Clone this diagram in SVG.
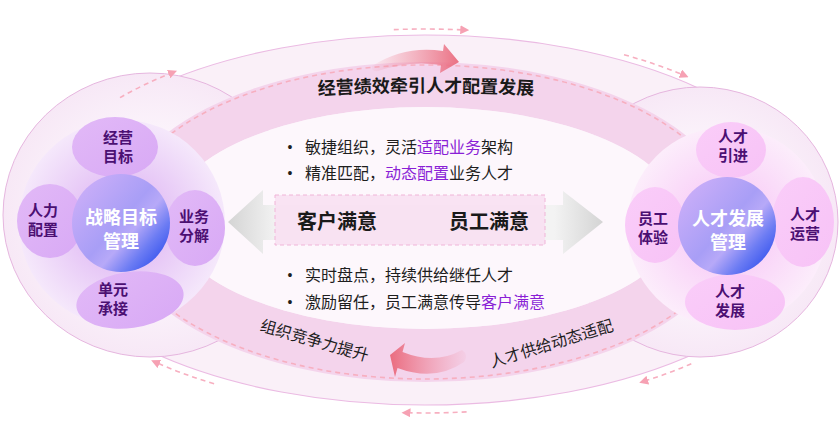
<svg xmlns="http://www.w3.org/2000/svg" width="840" height="440" viewBox="0 0 840 440">
<defs>
<style>
.cjk{font-family:'Noto Sans CJK SC','Noto Sans',sans-serif}
.lobeT{font-family:'Noto Sans CJK SC','Noto Sans',sans-serif;font-weight:700;font-size:15px;fill:#4B0F72;text-anchor:middle}
.coreT{font-family:'Noto Sans CJK SC','Noto Sans',sans-serif;font-weight:700;font-size:18px;fill:#ffffff;text-anchor:middle}
.bul{font-family:'Noto Sans CJK SC','Noto Sans',sans-serif;font-size:16px;fill:#1e1e1e}
.dot{font-family:'Liberation Sans',sans-serif;font-size:14px;fill:#1e1e1e;text-anchor:middle}
.hl{fill:#8A1FD6}
.dash{fill:none;stroke:#F7AFC0;stroke-width:1.6;stroke-dasharray:5 4}
.lobeL{fill:url(#gLobeL)}
.lobeR{fill:url(#gLobeR)}
</style>
<marker id="ah" viewBox="0 0 10 10" refX="7" refY="5" markerWidth="9" markerHeight="9" markerUnits="userSpaceOnUse" orient="auto">
<path d="M0,0 L10,5 L0,10 Z" fill="#F6A1B3"/>
</marker>
<linearGradient id="gCore" x1="0.15" y1="0.15" x2="0.95" y2="0.85">
<stop offset="0" stop-color="#C6ACF8"/>
<stop offset="0.45" stop-color="#A89EF6"/>
<stop offset="0.6" stop-color="#B7A9F8"/>
<stop offset="0.8" stop-color="#6C7CF3"/>
<stop offset="1" stop-color="#3553EE"/>
</linearGradient>
<radialGradient id="gPaleL" cx="0.5" cy="0.5" r="0.5">
<stop offset="0.45" stop-color="#E6C6F6"/>
<stop offset="1" stop-color="#F5E8FB"/>
</radialGradient>
<radialGradient id="gPaleR" cx="0.5" cy="0.5" r="0.5">
<stop offset="0.45" stop-color="#F9D4F8"/>
<stop offset="1" stop-color="#FCEDFB"/>
</radialGradient>
<linearGradient id="gLobeL" x1="0" y1="0" x2="1" y2="1">
<stop offset="0" stop-color="#E2B9F7"/>
<stop offset="1" stop-color="#D8A9F5"/>
</linearGradient>
<linearGradient id="gLobeR" x1="0" y1="0" x2="1" y2="1">
<stop offset="0" stop-color="#FACDF9"/>
<stop offset="1" stop-color="#F7C2F6"/>
</linearGradient>
<radialGradient id="gHalo" cx="0.5" cy="0.5" r="0.5">
<stop offset="0.6" stop-color="#FBF3FB"/>
<stop offset="1" stop-color="#F7E8F6"/>
</radialGradient>
<linearGradient id="gGrey" gradientUnits="userSpaceOnUse" x1="228" y1="0" x2="603" y2="0">
<stop offset="0" stop-color="#D4D4D4"/>
<stop offset="0.13" stop-color="#F3F3F3"/>
<stop offset="0.87" stop-color="#F3F3F3"/>
<stop offset="1" stop-color="#D4D4D4"/>
</linearGradient>
<linearGradient id="gArrTop" gradientUnits="userSpaceOnUse" x1="370" y1="0" x2="462" y2="0">
<stop offset="0" stop-color="#F08A9C" stop-opacity="0.05"/>
<stop offset="1" stop-color="#EA6C7F"/>
</linearGradient>
<linearGradient id="gArrBot" gradientUnits="userSpaceOnUse" x1="468" y1="0" x2="390" y2="0">
<stop offset="0" stop-color="#F08A9C" stop-opacity="0.05"/>
<stop offset="1" stop-color="#EA6C7F"/>
</linearGradient>
</defs>

<rect width="840" height="440" fill="#ffffff"/>

<g id="backdrop">
<ellipse cx="425" cy="220" rx="390" ry="185" fill="#FAF0F8" stroke="#EBBBE3" stroke-width="1.2"/>
<ellipse cx="150" cy="215" rx="147" ry="142" fill="url(#gHalo)" stroke="#E6B6DF" stroke-width="1"/>
<ellipse cx="700" cy="222" rx="138" ry="135" fill="url(#gHalo)" stroke="#E6B6DF" stroke-width="1"/>
</g>

<g id="band">
<path d="M115,222 A310,160 0 1,0 735,222 A310,160 0 1,0 115,222 Z M170,218 A255,111 0 1,1 680,218 A255,111 0 1,1 170,218 Z" fill="#F4D4EC" fill-rule="evenodd"/>
<ellipse cx="425" cy="218" rx="255" ry="111" fill="#FDF7FC"/>
<ellipse cx="425" cy="222" rx="307" ry="157" class="dash" stroke-width="1"/>
</g>

<g id="connectors">
<path class="dash" d="M120,97.6 A398,192 0 0,1 174.5,71.8" marker-end="url(#ah)"/>
<path class="dash" d="M393.8,29.6 A398,192 0 0,1 466.6,30.1" marker-end="url(#ah)"/>
<path class="dash" d="M624,54.7 A398,192 0 0,1 686.1,76.1" marker-end="url(#ah)"/>
<path class="dash" d="M691.3,363.7 A398,192 0 0,1 641.8,382" marker-end="url(#ah)"/>
<path class="dash" d="M466.6,411.9 A398,192 0 0,1 404.2,412.7" marker-end="url(#ah)"/>
<path class="dash" d="M214.1,383.8 A398,192 0 0,1 153.6,361.4" marker-end="url(#ah)"/>
<path d="M444,44 L443,51 Q405,45 372,66 Q371,72 378,71 Q410,60 441,65 L440,73 L459,62 Z" fill="url(#gArrTop)"/>
<path d="M405,343 L402.5,352 Q435,365 462,350 Q469,355 464,362 Q435,382 397.5,368 L395,377 L390,355 Z" fill="url(#gArrBot)"/>
</g>

<g id="band-labels">
<path id="topArc" d="M300,96 A2050,2050 0 0,1 552,96" fill="none"/>
<text class="cjk" font-size="18" font-weight="700" fill="#1a1a1a" text-anchor="middle"><textPath href="#topArc" startOffset="50%">经营绩效牵引人才配置发展</textPath></text>
<text class="cjk" font-size="16" fill="#1e1e1e" text-anchor="middle" transform="translate(313,346) rotate(16)">组织竞争力提升</text>
<text class="cjk" font-size="16" fill="#1e1e1e" text-anchor="middle" transform="translate(553,349) rotate(-17)">人才供给动态适配</text>
</g>

<g id="left-cluster">
<circle cx="122" cy="223" r="103" fill="url(#gPaleL)"/>
<g id="lobe-jyzb"><ellipse class="lobeL" cx="115" cy="147" rx="43" ry="30"/>
<text class="lobeT" x="118" y="143">经营</text><text class="lobeT" x="118" y="162">目标</text></g>
<g id="lobe-rlpz"><ellipse class="lobeL" cx="50" cy="221" rx="33" ry="37"/>
<text class="lobeT" x="43" y="216">人力</text><text class="lobeT" x="43" y="235">配置</text></g>
<g id="lobe-ywfj"><ellipse class="lobeL" cx="195" cy="228" rx="30" ry="38"/>
<text class="lobeT" x="194" y="222">业务</text><text class="lobeT" x="194" y="241">分解</text></g>
<g id="lobe-dycj"><ellipse class="lobeL" cx="130" cy="300" rx="54" ry="28" transform="rotate(-8 130 300)"/>
<text class="lobeT" x="113" y="295">单元</text><text class="lobeT" x="113" y="314">承接</text></g>
<g id="core-zlmb"><circle cx="121" cy="223" r="49" fill="url(#gCore)"/>
<text class="coreT" x="121" y="224">战略目标</text><text class="coreT" x="121" y="248">管理</text></g>
</g>

<g id="right-cluster">
<circle cx="727" cy="227" r="100" fill="url(#gPaleR)"/>
<g id="lobe-rcyj"><ellipse class="lobeR" cx="731" cy="150" rx="35" ry="28"/>
<text class="lobeT" x="733" y="142">人才</text><text class="lobeT" x="733" y="161">引进</text></g>
<g id="lobe-ygty"><ellipse class="lobeR" cx="655" cy="225" rx="30" ry="38"/>
<text class="lobeT" x="653" y="224">员工</text><text class="lobeT" x="653" y="243">体验</text></g>
<g id="lobe-rcyy"><ellipse class="lobeR" cx="803" cy="222" rx="31" ry="45"/>
<text class="lobeT" x="805" y="220">人才</text><text class="lobeT" x="805" y="239">运营</text></g>
<g id="lobe-rcfz"><ellipse class="lobeR" cx="735" cy="302" rx="50" ry="28"/>
<text class="lobeT" x="730" y="297">人才</text><text class="lobeT" x="730" y="316">发展</text></g>
<g id="core-rcfz"><circle cx="727" cy="226" r="49" fill="url(#gCore)"/>
<text class="coreT" x="728" y="225">人才发展</text><text class="coreT" x="728" y="249">管理</text></g>
</g>

<g id="center">
<polygon points="228,222 263,190 263,205 563,205 563,191 603,222 563,254 563,240 263,240 263,254" fill="url(#gGrey)"/>
<rect x="275" y="195" width="270" height="50" fill="#F9E1F2" fill-opacity="0.92" stroke="#F0B5D8" stroke-width="1" stroke-dasharray="4 3"/>
<text class="cjk" x="337" y="229" font-size="20" font-weight="700" fill="#1a1a1a" text-anchor="middle">客户满意</text>
<text class="cjk" x="489" y="229" font-size="20" font-weight="700" fill="#1a1a1a" text-anchor="middle">员工满意</text>
<text class="dot" x="290" y="152">•</text>
<text class="bul" x="305" y="153">敏捷组织，灵活<tspan class="hl">适配业务</tspan>架构</text>
<text class="dot" x="290" y="178">•</text>
<text class="bul" x="305" y="179">精准匹配，<tspan class="hl">动态配置</tspan>业务人才</text>
<text class="dot" x="290" y="280">•</text>
<text class="bul" x="305" y="281">实时盘点，持续供给继任人才</text>
<text class="dot" x="290" y="307">•</text>
<text class="bul" x="305" y="308">激励留任，员工满意传导<tspan class="hl">客户满意</tspan></text>
</g>
</svg>
